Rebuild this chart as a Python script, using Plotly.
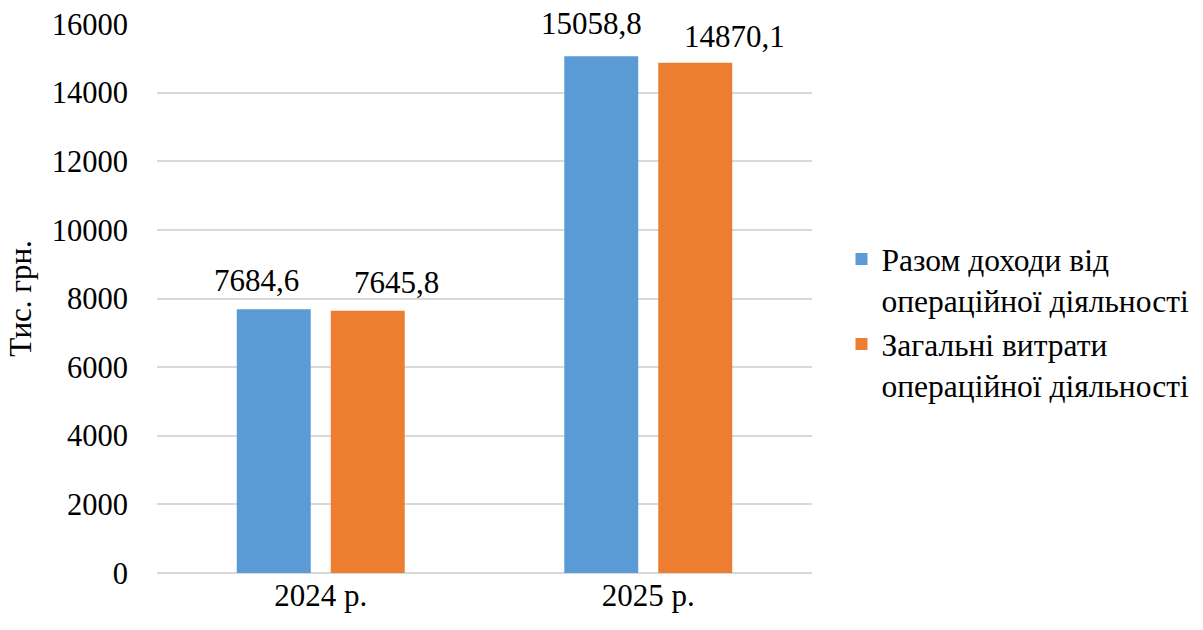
import plotly.graph_objects as go

categories = ["2024 р.", "2025 р."]
series_names = ["Разом доходи від<br>операційної діяльності",
                "Загальні витрати<br>операційної діяльності"]
income = [7684.6, 15058.8]
expenses = [7645.8, 14870.1]
colors = ["#5B9BD5", "#ED7D31"]
y_ticks = [0, 2000, 4000, 6000, 8000, 10000, 12000, 14000, 16000]

FONT = "Liberation Serif"

# label placement (pixel offsets from each bar's category position, style only)
label_xshift = [[-64, -57], [76, 86]]
label_yshift = [[9, 13], [9, 7]]

def fmt(v):
    return f"{v:.1f}".replace(".", ",")

fig = go.Figure()
for name, vals, col in zip(series_names, [income, expenses], colors):
    fig.add_trace(go.Bar(
        x=categories, y=vals, name=name, marker_color=col,
        marker_line_width=0, cliponaxis=False,
    ))

# data labels, placed at each bar's value through the axes
for vals, xs, ys in zip([income, expenses], label_xshift, label_yshift):
    for cat, v, dx, dy in zip(categories, vals, xs, ys):
        fig.add_annotation(x=cat, y=v, xref="x", yref="y", text=fmt(v),
                           showarrow=False, xshift=dx, yshift=dy,
                           yanchor="bottom", xanchor="center",
                           font=dict(family=FONT, size=31, color="black"))

fig.update_layout(
    width=1203, height=630,
    margin=dict(l=157, r=391, t=24, b=57, autoexpand=False),
    paper_bgcolor="white", plot_bgcolor="white",
    font=dict(family=FONT, size=31, color="black"),
    barmode="group", bargap=0.426, bargroupgap=0.213,
    showlegend=True,
    legend=dict(x=1.045, y=0.457, xanchor="left", yanchor="middle",
                font=dict(family=FONT, size=31.5, color="black"),
                valign="top", tracegroupgap=8, itemwidth=30),
    yaxis=dict(range=[0, 16000], tickvals=y_ticks, ticktext=[str(t) for t in y_ticks],
               showgrid=True, gridcolor="#D9D9D9", gridwidth=2,
               zeroline=True, zerolinecolor="#D9D9D9", zerolinewidth=2,
               showline=False, ticks="", ticklabelstandoff=28, automargin=False,
               tickfont=dict(family=FONT, size=30.5),
               title=dict(text="Тис. грн.", font=dict(family=FONT, size=31), standoff=10)),
    xaxis=dict(showline=False, ticks="", showgrid=False, ticklabelstandoff=1,
               automargin=False, tickfont=dict(family=FONT, size=31)),
)

fig.write_html("out.html")
